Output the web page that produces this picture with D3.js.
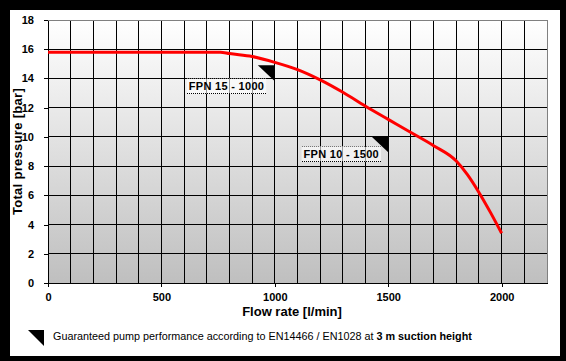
<!DOCTYPE html>
<html>
<head>
<meta charset="utf-8">
<script src="https://cdn.jsdelivr.net/npm/d3@7"></script>
<style>
  body { margin: 0; background: #000; }
  text { font-family: "Liberation Sans", Arial, sans-serif; }
</style>
</head>
<body>
<script>
// pump curve
const flow = [0, 100, 200, 300, 400, 500, 600, 700, 760, 800, 900, 1000, 1100, 1200, 1300, 1400, 1500, 1600, 1700, 1800, 1850, 1900, 1950, 2000]
const pressure = [15.8, 15.8, 15.8, 15.8, 15.8, 15.8, 15.8, 15.8, 15.8, 15.7, 15.5, 15.1, 14.6, 13.9, 13.05, 12.1, 11.2, 10.3, 9.4, 8.35, 7.4, 6.2, 4.85, 3.4]

const xTicks = [0, 500, 1000, 1500, 2000]
const yTicks = [0, 2, 4, 6, 8, 10, 12, 14, 16, 18]

// guaranteed points (triangle markers) and their labels
const markerFlow = [1000, 1500]
const markerPressure = [14.9, 10.05]
const markerLabels = ["FPN 15 - 1000", "FPN 10 - 1500"]
const labelFlow = [612, 1118]
const labelPressure = [13.45, 8.8]

const W = 566, H = 361

const svg = d3.select("body").append("svg")
    .attr("width", W)
    .attr("height", H)

// black frame + white panel
svg.append("rect").attr("width", W).attr("height", H).attr("fill", "#000")
svg.append("rect").attr("x", 10).attr("y", 10).attr("width", 550).attr("height", 346).attr("fill", "#fff")

const x = d3.scaleLinear().domain([0, 2200]).range([48, 547])
const y = d3.scaleLinear().domain([0, 18]).range([283, 20])

const defs = svg.append("defs")
const grad = defs.append("linearGradient")
    .attr("id", "bg").attr("x1", 0).attr("y1", 0).attr("x2", 0).attr("y2", 1)
grad.append("stop").attr("offset", "0%").attr("stop-color", "#ffffff")
grad.append("stop").attr("offset", "100%").attr("stop-color", "#bfbfbf")

svg.append("rect")
    .attr("x", x(0)).attr("y", y(18))
    .attr("width", x(2200) - x(0)).attr("height", y(0) - y(18))
    .attr("fill", "url(#bg)")

const grid = svg.append("g").attr("shape-rendering", "crispEdges")

// vertical gridlines every 100 l/min
grid.selectAll(".vg")
    .data(d3.range(100, 2200, 100))
    .enter()
    .append("line")
    .attr("x1", d => x(d)).attr("x2", d => x(d))
    .attr("y1", y(0)).attr("y2", y(18))
    .attr("stroke", "#000")

// horizontal gridlines
grid.selectAll(".hg")
    .data(yTicks.filter(d => d > 0 && d < 18))
    .enter()
    .append("line")
    .attr("x1", x(0)).attr("x2", x(2200))
    .attr("y1", d => y(d)).attr("y2", d => y(d))
    .attr("stroke", "#000")

// gray top and right border
grid.append("path")
    .attr("d", `M${x(0)},${y(18)}H${x(2200)}V${y(0)}`)
    .attr("fill", "none")
    .attr("stroke", "#808080")

// axes
const xAxis = svg.append("g")
    .attr("transform", `translate(0,${y(0)})`)
    .call(d3.axisBottom(x).tickValues(xTicks).tickFormat(d3.format("d")).tickSize(4).tickSizeOuter(0).tickPadding(6))
const yAxis = svg.append("g")
    .attr("transform", `translate(${x(0)},0)`)
    .call(d3.axisLeft(y).tickValues(yTicks).tickFormat(d3.format("d")).tickSize(4).tickSizeOuter(0).tickPadding(10))

for (const ax of [xAxis, yAxis]) {
    ax.select(".domain").attr("stroke", "#000").attr("shape-rendering", "crispEdges")
    ax.selectAll(".tick line").attr("stroke", "#000").attr("shape-rendering", "crispEdges")
    ax.selectAll("text")
        .attr("font-family", "Liberation Sans, Arial, sans-serif")
        .attr("font-size", 11)
        .attr("font-weight", "bold")
        .attr("fill", "#000")
}

// pump curve
const line = d3.line()
    .x((d, i) => x(flow[i]))
    .y((d, i) => y(pressure[i]))
    .curve(d3.curveMonotoneX)

svg.append("path")
    .datum(pressure)
    .attr("d", line)
    .attr("fill", "none")
    .attr("stroke", "#ff0000")
    .attr("stroke-width", 3)
    .attr("stroke-linejoin", "round")

// triangle markers
const tri = 17
svg.selectAll(".mk")
    .data(markerFlow)
    .enter()
    .append("path")
    .attr("d", (d, i) => {
        const px = x(d), py = y(markerPressure[i])
        return `M${px - tri},${py}H${px}V${py + tri - 1}Z`
    })
    .attr("fill", "#000")

// labels
markerLabels.forEach((t, i) => {
    const lx = x(labelFlow[i]), ly = y(labelPressure[i])
    const g = svg.append("g")
    const txt = g.append("text")
        .attr("x", lx + 2).attr("y", ly + 4)
        .attr("font-size", 11)
        .attr("font-weight", "bold")
        .attr("letter-spacing", 0.3)
        .text(t)
    const w = txt.node().getComputedTextLength() + 4
    g.insert("rect", "text")
        .attr("x", lx).attr("y", ly - 7.5)
        .attr("width", w).attr("height", 15)
        .attr("fill", "#fff").attr("opacity", 0.6)
    g.append("line")
        .attr("x1", lx).attr("x2", lx + w)
        .attr("y1", ly + 7.5).attr("y2", ly + 7.5)
        .attr("stroke", "#000").attr("stroke-dasharray", "1,1")
        .attr("shape-rendering", "crispEdges")
    g.append("line")
        .attr("x1", lx).attr("x2", lx + w)
        .attr("y1", ly - 7.5).attr("y2", ly - 7.5)
        .attr("stroke", "#777").attr("stroke-dasharray", "1,1")
        .attr("shape-rendering", "crispEdges")
})

// axis titles
svg.append("text")
    .attr("x", 292).attr("y", 316)
    .attr("text-anchor", "middle")
    .attr("font-size", 13)
    .attr("font-weight", "bold")
    .text("Flow rate [l/min]")

svg.append("text")
    .attr("transform", `translate(22,${(y(0) + y(18)) / 2}) rotate(-90)`)
    .attr("text-anchor", "middle")
    .attr("font-size", 13)
    .attr("font-weight", "bold")
    .attr("letter-spacing", 0.3)
    .text("Total pressure [bar]")

// footnote
svg.append("path")
    .attr("d", "M28,330H44V346Z")
    .attr("fill", "#000")

const foot = svg.append("text")
    .attr("x", 53).attr("y", 340)
    .attr("font-size", 10.8)
foot.append("tspan").text("Guaranteed pump performance according to EN14466 / EN1028 at ")
foot.append("tspan").attr("font-weight", "bold").text("3 m suction height")
</script>
</body>
</html>
